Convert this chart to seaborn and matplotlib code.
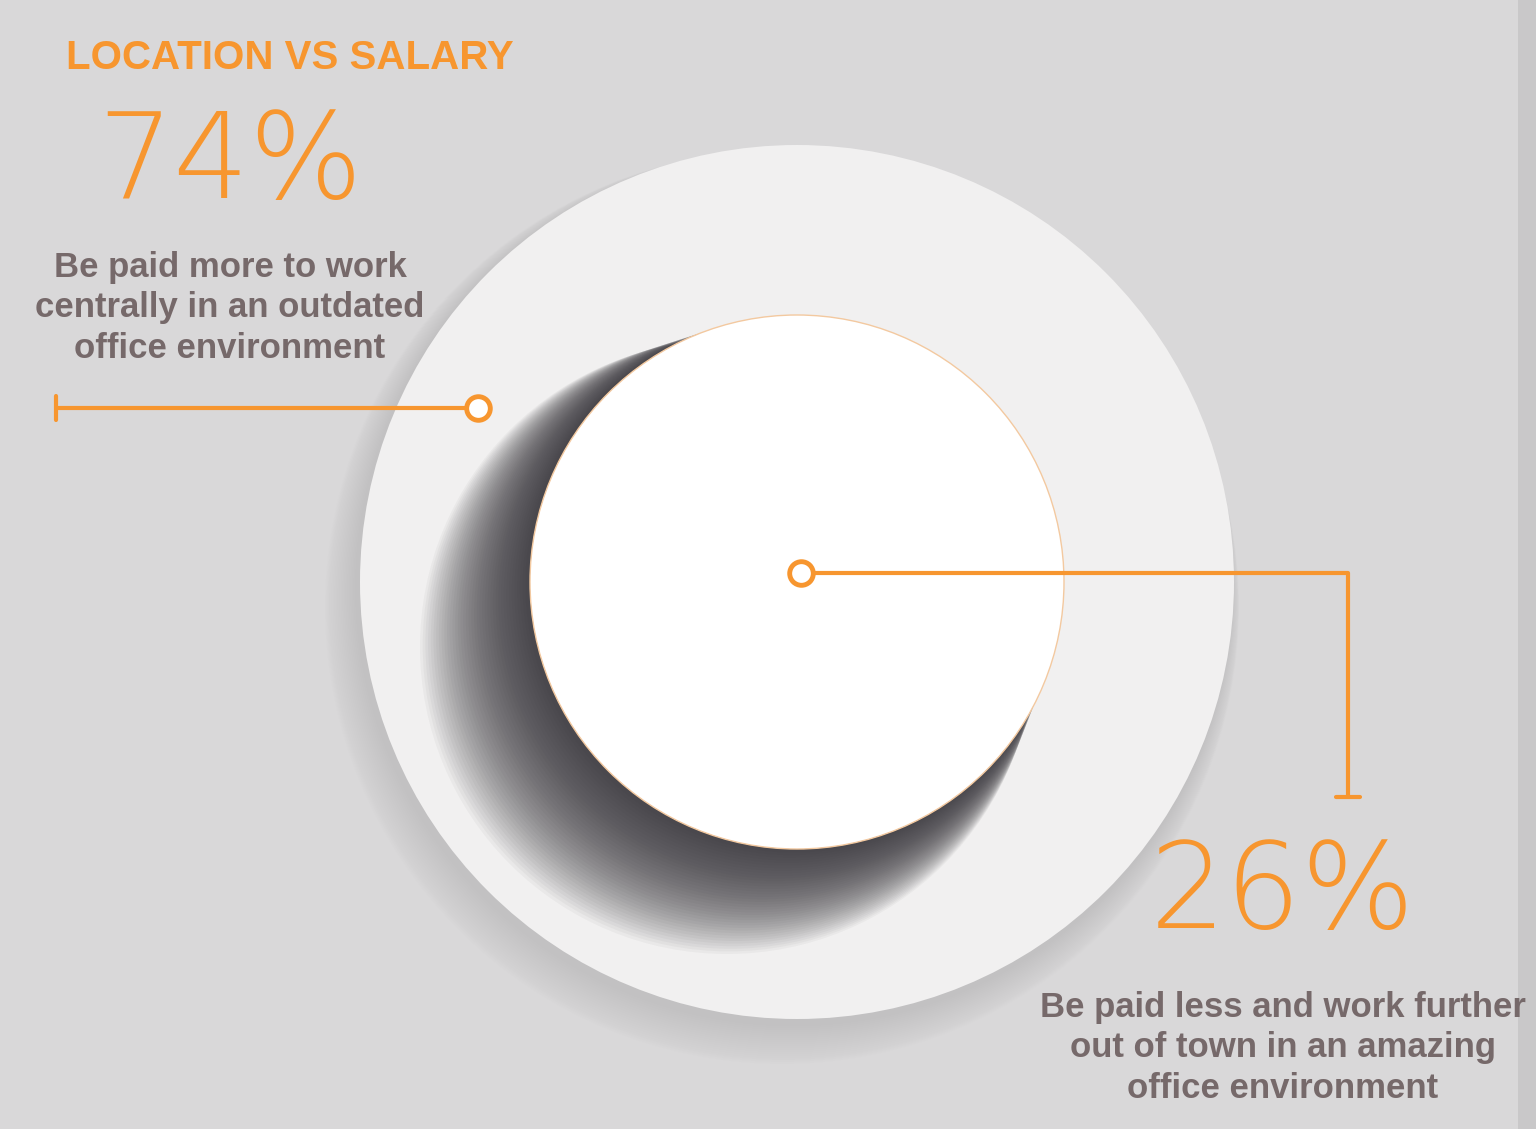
import matplotlib
matplotlib.use("Agg")
import matplotlib.pyplot as plt
import seaborn as sns
from matplotlib.patches import Circle

sns.set_theme(style="white")
plt.rcParams["font.family"] = ["Liberation Sans Narrow", "DejaVu Sans"]

# data
title = "LOCATION VS SALARY"
shares = [74, 26]
labels = [
    "Be paid more to work\ncentrally in an outdated\noffice environment",
    "Be paid less and work further\nout of town in an amazing\noffice environment",
]

ORANGE = "#f7962f"
TEXT = "#76696a"
BG = "#d9d8d9"
LABEL_FONT = dict(family=["Liberation Sans", "DejaVu Sans"], fontweight="bold",
                  fontstretch="condensed", fontsize=25)

fig = plt.figure(figsize=(15.36, 11.29), dpi=100)
fig.patch.set_facecolor(BG)
ax = fig.add_axes([0, 0, 1, 1])
ax.set_xlim(0, 1536)
ax.set_ylim(1129, 0)
ax.set_facecolor(BG)
ax.axis("off")

# darker strip on the right edge
ax.axvspan(1518, 1536, color="#c9c8c9", lw=0)

cx, cy = 797, 582
# soft shadow of outer disc (down-left)
for i in range(20):
    ax.add_patch(Circle((cx - 15 + i * 0.6, cy + 25 - i * 1.0), 437 + 20 - i,
                        color="#a09fa0", alpha=0.02, lw=0))
ax.add_patch(Circle((cx, cy), 437, color="#f1f0f0", lw=0))

# shadow of inner disc (down-left)
for i in range(40):
    r = 267 + 40 - i * 1.0
    ax.add_patch(Circle((cx - 70 + i * 1.7, cy + 65 - i * 1.6), r,
                        color="#2c2a30", alpha=0.04, lw=0))
ax.add_patch(Circle((cx, cy), 267, color="white", ec="#f3c9a0", lw=1))

# title and first share
ax.text(290, 58, title, color=ORANGE, fontsize=29, fontweight="bold",
        ha="center", va="center", family=["Liberation Sans", "DejaVu Sans"],
        fontstretch="condensed")
ax.text(230, 165, f"{shares[0]}%", color=ORANGE, fontsize=86, fontweight="light",
        ha="center", va="center", family=["DejaVu Sans"])
ax.text(230, 308, labels[0], color=TEXT, ha="center", va="center",
        linespacing=1.3, **LABEL_FONT)

# leader 1
ax.plot([56, 478], [408, 408], color=ORANGE, lw=3, zorder=5)
ax.plot([56, 56], [396, 420], color=ORANGE, lw=3, zorder=5)
ax.plot(478, 408, "o", ms=17, mfc="white", mec=ORANGE, mew=3.5, zorder=6)

# leader 2
ax.plot([801, 1348, 1348], [573, 573, 797], color=ORANGE, lw=3, zorder=5)
ax.plot([1336, 1360], [797, 797], color=ORANGE, lw=3, zorder=5)
ax.plot(801, 573, "o", ms=17, mfc="white", mec=ORANGE, mew=3.5, zorder=6)

ax.text(1283, 895, f"{shares[1]}%", color=ORANGE, fontsize=86, fontweight="light",
        ha="center", va="center", family=["DejaVu Sans"])
ax.text(1283, 1048, labels[1], color=TEXT, ha="center", va="center",
        linespacing=1.3, **LABEL_FONT)

fig.savefig("out.png", dpi=100, facecolor=BG)
